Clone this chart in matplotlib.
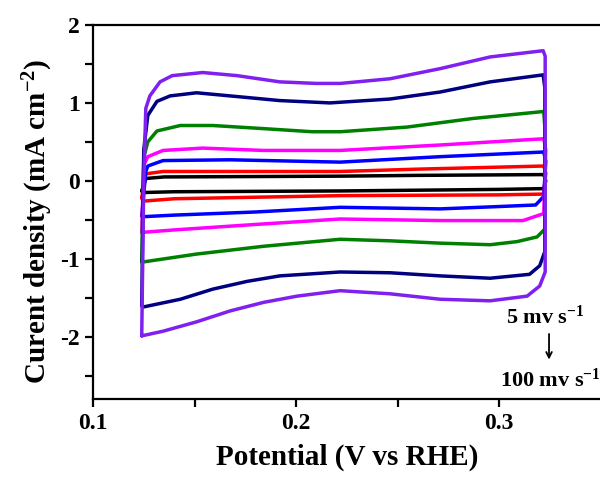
import matplotlib
matplotlib.use("Agg")
import matplotlib.pyplot as plt
from matplotlib.ticker import FixedLocator

plt.rcParams['font.family'] = ['Liberation Serif', 'DejaVu Serif']
plt.rcParams['font.weight'] = 'bold'
plt.rcParams['mathtext.fontset'] = 'custom'
plt.rcParams['mathtext.rm'] = 'Liberation Serif:bold'
plt.rcParams['mathtext.bf'] = 'Liberation Serif:bold'
plt.rcParams['mathtext.it'] = 'Liberation Serif:bold'

# Scan rates (mV/s) and colours
scan_rates = [5, 10, 20, 30, 50, 80, 100]
colors = ['#000000', '#FF0000', '#0000FF', '#FF00FF', '#008000', '#000080', '#8020F0']

# Each CV loop: potential (V) and current density (mA cm^-2)
x_5 = [0.124, 0.126, 0.135, 0.2217, 0.26, 0.322, 0.323, 0.322, 0.3, 0.2217, 0.14, 0.125, 0.124]
y_5 = [-0.13, 0.03, 0.05, 0.06, 0.07, 0.08, 0.0, -0.10, -0.11, -0.13, -0.14, -0.15, -0.13]

x_10 = [0.124, 0.126, 0.1345, 0.2217, 0.26, 0.322, 0.323, 0.322, 0.3, 0.2217, 0.14, 0.125, 0.124]
y_10 = [-0.22, 0.09, 0.12, 0.12, 0.15, 0.19, 0.10, -0.17, -0.18, -0.19, -0.23, -0.26, -0.22]

x_20 = [0.124, 0.126, 0.127, 0.1345, 0.1675, 0.2217, 0.271, 0.322, 0.323, 0.322, 0.318,
        0.3, 0.271, 0.2217, 0.18, 0.14, 0.125, 0.124]
y_20 = [-0.45, 0.12, 0.19, 0.26, 0.27, 0.24, 0.31, 0.37, 0.25, -0.2, -0.31,
        -0.33, -0.36, -0.34, -0.40, -0.44, -0.46, -0.45]

x_30 = [0.124, 0.125, 0.127, 0.1345, 0.154, 0.184, 0.2217, 0.271, 0.322, 0.323, 0.322,
        0.3118, 0.271, 0.2217, 0.18, 0.14, 0.125, 0.124]
y_30 = [-0.66, 0.2, 0.31, 0.39, 0.42, 0.39, 0.39, 0.46, 0.54, 0.4, -0.42,
        -0.51, -0.51, -0.49, -0.56, -0.63, -0.66, -0.66]

x_50 = [0.124, 0.125, 0.127, 0.1315, 0.143, 0.159, 0.184, 0.208, 0.2217, 0.2547, 0.287, 0.322,
        0.3225, 0.3225, 0.3187, 0.3089, 0.2956, 0.271, 0.2463, 0.2217, 0.184, 0.151, 0.125, 0.124]
y_50 = [-1.04, 0.3, 0.50, 0.64, 0.71, 0.71, 0.67, 0.63, 0.63, 0.69, 0.80, 0.89,
        0.7, -0.62, -0.72, -0.78, -0.82, -0.80, -0.77, -0.75, -0.84, -0.94, -1.04, -1.04]

x_80 = [0.124, 0.125, 0.127, 0.1315, 0.138, 0.151, 0.1675, 0.192, 0.2167, 0.2463, 0.271,
        0.2956, 0.3217, 0.3225, 0.3225, 0.320, 0.315, 0.2956, 0.271, 0.2463, 0.2217,
        0.192, 0.176, 0.159, 0.143, 0.1246, 0.124]
y_80 = [-1.6, 0.4, 0.84, 1.02, 1.09, 1.13, 1.09, 1.03, 1.0, 1.05, 1.14,
        1.27, 1.36, 1.2, -0.91, -1.09, -1.2, -1.25, -1.22, -1.18, -1.17,
        -1.22, -1.29, -1.39, -1.52, -1.62, -1.6]

x_100 = [0.124, 0.125, 0.126, 0.128, 0.133, 0.139, 0.154, 0.171, 0.192, 0.210, 0.2217,
         0.2463, 0.271, 0.2956, 0.3217, 0.3227, 0.3227, 0.320, 0.3138, 0.2956, 0.271,
         0.2463, 0.2217, 0.2005, 0.184, 0.1675, 0.151, 0.1345, 0.124]
y_100 = [-1.99, 0.0, 0.93, 1.09, 1.27, 1.35, 1.39, 1.35, 1.27, 1.25, 1.25,
         1.31, 1.44, 1.59, 1.67, 1.6, -1.17, -1.35, -1.48, -1.54, -1.52,
         -1.45, -1.41, -1.48, -1.56, -1.67, -1.81, -1.93, -1.99]

loops = [(x_5, y_5), (x_10, y_10), (x_20, y_20), (x_30, y_30),
         (x_50, y_50), (x_80, y_80), (x_100, y_100)]

fig = plt.figure(figsize=(6.0, 4.78), dpi=100)
ax = fig.add_axes([0.155, 0.1653, 0.846, 0.7824])

for (xs, ys), c in zip(loops, colors):
    ax.plot(xs, ys, color=c, lw=2.5, solid_joinstyle='round', solid_capstyle='round')

ax.set_xlim(0.1, 0.35)
ax.set_ylim(-2.8, 2.0)
ax.xaxis.set_major_locator(FixedLocator([0.1, 0.2, 0.3]))
ax.xaxis.set_minor_locator(FixedLocator([0.15, 0.25]))
ax.yaxis.set_major_locator(FixedLocator([-2, -1, 0, 1, 2]))
ax.yaxis.set_minor_locator(FixedLocator([-2.5, -1.5, -0.5, 0.5, 1.5]))
ax.set_xticklabels(['0.1', '0.2', '0.3'], fontsize=17, fontweight='bold')
ax.set_yticklabels(['-2', '-1', '0', '1', '2'], fontsize=17, fontweight='bold')

for s in ['top', 'left', 'bottom', 'right']:
    ax.spines[s].set_linewidth(1.6)
ax.spines['right'].set_visible(False)
ax.tick_params(which='both', direction='out', length=6, width=1.6,
               top=False, right=False)
ax.tick_params(axis='x', pad=4)

ax.set_xlabel('Potential (V vs RHE)', fontsize=21, fontweight='bold', labelpad=7)
ax.set_ylabel(r'Curent density (mA cm$^{-2}$)', fontsize=21, fontweight='bold')
ax.yaxis.set_label_coords(-0.074, 0.476)

ax.text(0.3227, -1.75, r'5 mv s$^{-1}$', ha='center', va='center', fontsize=16, fontweight='bold')
ax.annotate('', xy=(0.3246, -2.33), xytext=(0.3246, -1.93),
            arrowprops=dict(arrowstyle='->', color='black', lw=1.3))
ax.text(0.3255, -2.56, r'100 mv s$^{-1}$', ha='center', va='center', fontsize=16, fontweight='bold')

fig.savefig('out.png', dpi=100)
